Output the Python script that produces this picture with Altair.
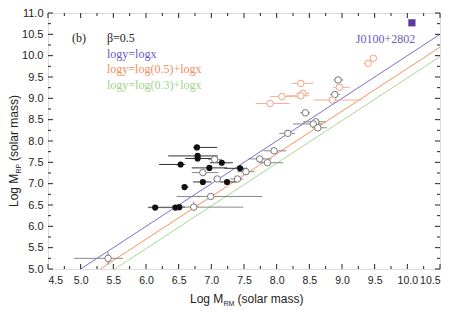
import altair as alt
import pandas as pd

# ---- data ----
# filled black points: x, y, x-error low, x-error high
fill_x = [6.78, 6.79, 6.79, 6.53, 7.16, 6.97, 7.44, 6.87, 7.24, 6.59, 6.14, 6.45, 6.51]
fill_y = [7.85, 7.65, 7.59, 7.45, 7.49, 7.37, 7.36, 7.04, 7.04, 6.92, 6.44, 6.44, 6.45]
fill_lo = [6.72, 6.34, 6.60, 6.20, 6.98, 6.70, 7.20, 6.72, 7.13, 6.55, 6.04, 6.03, 6.40]
fill_hi = [7.09, 7.10, 7.00, 6.60, 7.33, 7.24, 7.55, 7.00, 7.39, 6.65, 6.47, 6.55, 6.60]

# open grey points
grey_x = [5.42, 6.73, 6.99, 6.87, 7.05, 7.09, 7.40, 7.53, 7.74, 7.86, 7.96, 8.17, 8.44, 8.60, 8.56, 8.63, 8.89, 8.94]
grey_y = [5.25, 6.45, 6.70, 7.26, 7.57, 7.11, 7.11, 7.28, 7.58, 7.49, 7.77, 8.18, 8.66, 8.45, 8.40, 8.31, 9.09, 9.43]
grey_lo = [4.90, 6.03, 6.47, 6.70, 6.95, 7.03, 7.29, 7.40, 7.57, 7.72, 7.80, 8.04, 8.36, 8.40, 8.25, 8.54, 8.82, 8.87]
grey_hi = [5.65, 7.49, 7.78, 7.11, 7.16, 7.15, 7.49, 7.66, 7.92, 8.10, 8.15, 8.28, 8.51, 8.75, 8.70, 8.77, 8.97, 9.02]
# vertical error bars on two grey points
vbar_x = [5.42, 6.73]
vbar_lo = [5.10, 6.37]
vbar_hi = [5.40, 6.58]

# open orange points
org_x = [9.48, 9.40, 8.37, 8.96, 8.40, 8.37, 8.08, 8.85, 7.90]
org_y = [9.94, 9.82, 9.35, 9.26, 9.12, 9.06, 9.04, 8.96, 8.88]
org_lo = [9.44, 9.33, 8.23, 8.86, 8.30, 8.15, 7.90, 8.56, 7.68]
org_hi = [9.52, 9.45, 8.56, 9.12, 8.50, 8.50, 8.36, 9.31, 8.20]

# J0100+2802
j_x = [10.07]
j_y = [10.77]

# reference lines (endpoints): logy=logx, logy=log(0.5)+logx, logy=log(0.3)+logx
line_name = ["p", "p", "o", "o", "g", "g"]
line_x = [5.0, 10.5, 5.301, 10.5, 5.523, 10.5]
line_y = [5.0, 10.5, 5.0, 10.199, 5.0, 9.977]

# tick values
x_major = [4.5, 5.0, 5.5, 6.0, 6.5, 7.0, 7.5, 8.0, 8.5, 9.0, 9.5, 10.0, 10.5]
x_minor = [4.75, 5.25, 5.75, 6.25, 6.75, 7.25, 7.75, 8.25, 8.75, 9.25, 9.75, 10.25]
y_major = [5.0, 5.5, 6.0, 6.5, 7.0, 7.5, 8.0, 8.5, 9.0, 9.5, 10.0, 10.5, 11.0]
y_minor = [5.25, 5.75, 6.25, 6.75, 7.25, 7.75, 8.25, 8.75, 9.25, 9.75, 10.25, 10.75]

W, H = 392, 256
PURPLE_L = "#7d6dd2"
PURPLE_T = "#6a5ac4"
ORANGE_L = "#f4925e"
ORANGE_T = "#f58c5c"
GREEN_L = "#a9d992"
GREEN_T = "#9fd38a"
SQ = "#5b3d9e"
SANS = "Liberation Sans"

xs = alt.Scale(domain=[4.5, 10.5], nice=False, zero=False)
ys = alt.Scale(domain=[5.0, 11.0], nice=False, zero=False)
xax = alt.Axis(values=x_major, format=".1f", ticks=False, grid=False, domain=False,
               labelFont=SANS, labelFontSize=10.5, labelColor="#222",
               labelPadding=6, labelOverlap=False, labelFlush=True)
yax = alt.Axis(values=y_major, format=".1f", ticks=False, grid=False, domain=False,
               labelFont=SANS, labelFontSize=11, labelColor="#222",
               labelPadding=5, labelOverlap=False, labelFlush=False)

df_fill = pd.DataFrame({"x": fill_x, "y": fill_y, "lo": fill_lo, "hi": fill_hi})
df_grey = pd.DataFrame({"x": grey_x, "y": grey_y, "lo": grey_lo, "hi": grey_hi})
df_org = pd.DataFrame({"x": org_x, "y": org_y, "lo": org_lo, "hi": org_hi})
df_v = pd.DataFrame({"x": vbar_x, "lo": vbar_lo, "hi": vbar_hi})
df_j = pd.DataFrame({"x": j_x, "y": j_y})
df_lines = pd.DataFrame({"name": line_name, "x": line_x, "y": line_y})
one = pd.DataFrame({"a": [0]})


def X(f="x"):
    return alt.X(f"{f}:Q", scale=xs, axis=xax, title=None)


def Y(f="y"):
    return alt.Y(f"{f}:Q", scale=ys, axis=yax, title=None)


lines = alt.Chart(df_lines).mark_line(strokeWidth=1).encode(
    x=X(), y=Y(), detail="name:N",
    color=alt.Color("name:N", scale=alt.Scale(domain=["p", "o", "g"], range=[PURPLE_L, ORANGE_L, GREEN_L]), legend=None),
)


def hbars(df, color):
    return alt.Chart(df).mark_rule(color=color, strokeWidth=1).encode(x=X("lo"), x2="hi", y=Y())


vbars = alt.Chart(df_v).mark_rule(color="#888", strokeWidth=1).encode(x=X(), y=Y("lo"), y2="hi")

fill_pts = alt.Chart(df_fill).mark_point(filled=True, shape="circle", size=38, color="#111", opacity=1).encode(x=X(), y=Y())
grey_pts = alt.Chart(df_grey).mark_point(shape="circle", size=42, stroke="#777", fill="white", fillOpacity=1, strokeWidth=1, opacity=1).encode(x=X(), y=Y())
org_pts = alt.Chart(df_org).mark_point(shape="circle", size=42, stroke="#f4a07c", fill="white", fillOpacity=1, strokeWidth=1, opacity=1).encode(x=X(), y=Y())
j_pt = alt.Chart(df_j).mark_point(shape="square", size=52, filled=True, color=SQ, opacity=1).encode(x=X(), y=Y())


# inward ticks
def xticks(vals, length):
    d = pd.DataFrame({"v": vals})
    b = alt.Chart(d).mark_rule(color="#222", strokeWidth=1).encode(
        x=X("v"), y=alt.value(H), y2=alt.value(H - length))
    t = alt.Chart(d).mark_rule(color="#222", strokeWidth=1).encode(
        x=X("v"), y=alt.value(0), y2=alt.value(length))
    return [b, t]


def yticks(vals, length):
    d = pd.DataFrame({"v": vals})
    l = alt.Chart(d).mark_rule(color="#222", strokeWidth=1).encode(
        y=Y("v"), x=alt.value(0), x2=alt.value(length))
    r = alt.Chart(d).mark_rule(color="#222", strokeWidth=1).encode(
        y=Y("v"), x=alt.value(W), x2=alt.value(W - length))
    return [l, r]


ticks = xticks(x_major, 5) + xticks(x_minor, 3) + yticks(y_major, 5) + yticks(y_minor, 3)


def txt(s, x, y, color="#222", size=12, font="Liberation Serif", align="left", baseline="middle", angle=0):
    kw = dict(text=s, color=color, fontSize=size, font=font, align=align, baseline=baseline)
    if angle:
        kw["angle"] = angle
    return alt.Chart(one).mark_text(**kw).encode(x=alt.value(x), y=alt.value(y))


notes = [
    txt("(b)", 24, 25),
    txt("β=0.5", 59, 25),
    txt("logy=logx", 59, 40.5, color=PURPLE_T),
    txt("logy=log(0.5)+logx", 59, 56, color=ORANGE_T),
    txt("logy=log(0.3)+logx", 59, 71.5, color=GREEN_T),
    txt("J0100+2802", 337.5, 25.5, color=PURPLE_T, align="center"),
]

titles = [
    txt("Log M", 142, 289.5, font=SANS, baseline="alphabetic"),
    txt("RM", 175.5, 292.5, font=SANS, size=7, baseline="alphabetic"),
    txt("(solar mass)", 189.5, 289.5, font=SANS, baseline="alphabetic"),
    txt("Log M", -30, 194, font=SANS, baseline="alphabetic", angle=270),
    txt("RP", -27, 160.5, font=SANS, size=7, baseline="alphabetic", angle=270),
    txt("(solar mass)", -30, 148, font=SANS, baseline="alphabetic", angle=270),
]

chart = alt.layer(
    lines,
    hbars(df_fill, "#333"), hbars(df_grey, "#888"), vbars, hbars(df_org, "#f6ad8c"),
    fill_pts, grey_pts, org_pts, j_pt,
    *ticks, *notes, *titles,
).properties(
    width=W, height=H,
    padding={"left": 40, "top": 5, "right": 5, "bottom": 38},
    autosize=alt.AutoSizeParams(type="none"),
).configure_view(stroke="#222", strokeWidth=1).configure(background="white")

chart.save("out.html", embed_options={"renderer": "svg", "actions": False})
